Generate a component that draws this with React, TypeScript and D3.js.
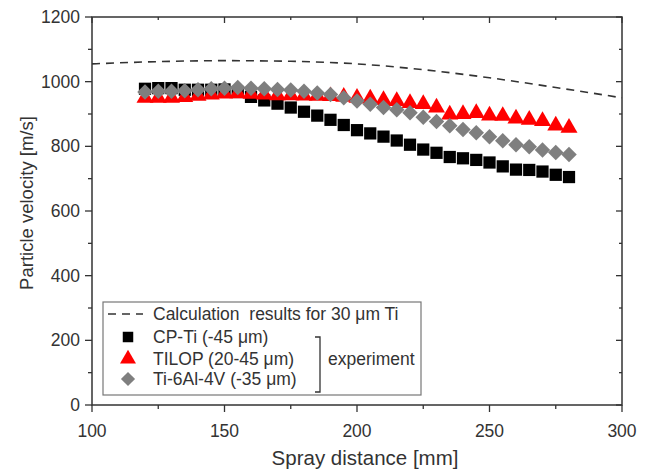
import React, { useEffect, useRef } from 'react';
import * as d3 from 'd3';

// spray distance [mm] for the measured points
const distance = [120, 125, 130, 135, 140, 145, 150, 155, 160, 165, 170, 175, 180, 185, 190, 195, 200,
    205, 210, 215, 220, 225, 230, 235, 240, 245, 250, 255, 260, 265, 270, 275, 280];

const cpTi = [978, 980, 980, 975, 975, 975, 976, 968, 953, 942, 932, 920, 907, 895, 882, 866, 850,
    840, 830, 818, 805, 790, 780, 767, 763, 758, 750, 738, 728, 727, 722, 712, 705];

const tilop = [950, 950, 950, 952, 956, 960, 963, 964, 962, 960, 958, 958, 957, 956, 955, 953, 950,
    948, 943, 940, 934, 931, 920, 898, 900, 903, 895, 894, 886, 882, 878, 864, 857];

const ti64 = [968, 970, 970, 972, 975, 978, 980, 982, 980, 978, 976, 974, 970, 965, 960, 950, 940,
    930, 920, 913, 904, 890, 877, 864, 852, 842, 830, 817, 805, 799, 789, 781, 775];

// calculation curve
const calcX = [100, 125, 150, 175, 200, 225, 250, 275, 300];
const calcV = [1055, 1062, 1065, 1063, 1055, 1037, 1012, 982, 950];

const xTicks = [100, 150, 200, 250, 300];
const yTicks = [0, 200, 400, 600, 800, 1000, 1200];

const legendLabels = ['Calculation  results for 30 \u03bcm Ti', 'CP-Ti (-45 \u03bcm)', 'TILOP (20-45 \u03bcm)', 'Ti-6Al-4V (-35 \u03bcm)'];

const margin = { top: 17, right: 25, bottom: 65, left: 92 };
const W = 647, H = 470;
const width = W - margin.left - margin.right;
const height = H - margin.top - margin.bottom;
const font = '"Liberation Sans", Arial, sans-serif';

export default function App() {
    const ref = useRef(null);

    useEffect(() => {
        const root = d3.select(ref.current);
        root.selectAll('*').remove();

        const svg = root.append('g').attr('transform', `translate(${margin.left},${margin.top})`);

        const x = d3.scaleLinear().domain([100, 300]).range([0, width]);
        const y = d3.scaleLinear().domain([0, 1200]).range([height, 0]);

        const axisColor = '#333';
        const minorX = d3.range(125, 300, 50);
        const minorY = d3.range(100, 1200, 200);

        // frame
        svg.append('rect').attr('width', width).attr('height', height)
            .attr('fill', 'none').attr('stroke', axisColor).attr('stroke-width', 1.5);

        const ticks = (data, x1, x2, y1, y2) => {
            svg.append('g').selectAll('line').data(data).enter().append('line')
                .attr('x1', x1).attr('x2', x2).attr('y1', y1).attr('y2', y2)
                .attr('stroke', axisColor).attr('stroke-width', 1.3);
        };
        // bottom (outward), top (inward)
        ticks(xTicks, d => x(d), d => x(d), height, height + 7);
        ticks(minorX, d => x(d), d => x(d), height, height + 4);
        ticks(xTicks, d => x(d), d => x(d), 0, 6);
        ticks(minorX, d => x(d), d => x(d), 0, 3);
        // left (outward), right (inward)
        ticks(yTicks, -7, 0, d => y(d), d => y(d));
        ticks(minorY, -4, 0, d => y(d), d => y(d));
        ticks(yTicks, width - 6, width, d => y(d), d => y(d));
        ticks(minorY, width - 3, width, d => y(d), d => y(d));

        // tick labels
        svg.append('g').selectAll('text').data(xTicks).enter().append('text')
            .attr('x', d => x(d)).attr('y', height + 32)
            .attr('text-anchor', 'middle')
            .style('font-family', font).style('font-size', '17.5px').attr('fill', '#333')
            .text(d => d);
        svg.append('g').selectAll('text').data(yTicks).enter().append('text')
            .attr('x', -12).attr('y', d => y(d) + 6)
            .attr('text-anchor', 'end')
            .style('font-family', font).style('font-size', '17.5px').attr('fill', '#333')
            .text(d => d);

        // axis titles
        svg.append('text')
            .attr('x', width / 2 + 8).attr('y', height + 60)
            .attr('text-anchor', 'middle')
            .style('font-family', font).style('font-size', '20.5px').attr('fill', '#333')
            .text('Spray distance [mm]');
        svg.append('text')
            .attr('transform', `translate(${-59},${height / 2 - 8}) rotate(-90)`)
            .attr('text-anchor', 'middle')
            .style('font-family', font).style('font-size', '18.5px').attr('fill', '#333')
            .text('Particle velocity [m/s]');

        // calculation curve
        const line = d3.line<number>().x((d, i) => x(calcX[i])).y(d => y(d)).curve(d3.curveMonotoneX);
        svg.append('path').datum(calcV)
            .attr('d', line)
            .attr('fill', 'none').attr('stroke', '#333').attr('stroke-width', 1.6)
            .attr('stroke-dasharray', '8,6');

        // markers
        const square = d3.symbol().type(d3.symbolSquare).size(150);
        const triangle = d3.symbol().type(d3.symbolTriangle).size(125);
        const diamond = d3.symbol().type(d3.symbolSquare).size(120);

        svg.append('g').selectAll('path').data(cpTi).enter().append('path')
            .attr('d', square)
            .attr('transform', (d, i) => `translate(${x(distance[i])},${y(d)})`)
            .attr('fill', '#000');
        svg.append('g').selectAll('path').data(tilop).enter().append('path')
            .attr('d', triangle)
            .attr('transform', (d, i) => `translate(${x(distance[i])},${y(d)})`)
            .attr('fill', '#f00');
        svg.append('g').selectAll('path').data(ti64).enter().append('path')
            .attr('d', diamond)
            .attr('transform', (d, i) => `translate(${x(distance[i])},${y(d)}) rotate(45)`)
            .attr('fill', '#7f7f7f');

        // legend
        const lg = svg.append('g').attr('transform', 'translate(11,285)');
        lg.append('rect').attr('width', 318).attr('height', 93)
            .attr('fill', '#fff').attr('stroke', '#777').attr('stroke-width', 1.2);

        const rowY = [12, 35, 57, 77];
        lg.append('line').attr('x1', 5).attr('x2', 40).attr('y1', rowY[0]).attr('y2', rowY[0])
            .attr('stroke', '#333').attr('stroke-width', 1.6).attr('stroke-dasharray', '8,6');
        lg.append('path').attr('d', d3.symbol().type(d3.symbolSquare).size(110)())
            .attr('transform', `translate(25,${rowY[1]})`).attr('fill', '#000');
        lg.append('path').attr('d', d3.symbol().type(d3.symbolTriangle).size(110)())
            .attr('transform', `translate(25,${rowY[2]})`).attr('fill', '#f00');
        lg.append('path').attr('d', d3.symbol().type(d3.symbolSquare).size(100)())
            .attr('transform', `translate(25,${rowY[3]}) rotate(45)`).attr('fill', '#7f7f7f');

        lg.selectAll('text.lbl').data(legendLabels).enter().append('text')
            .attr('class', 'lbl')
            .attr('x', 50).attr('y', (d, i) => rowY[i] + 6)
            .style('font-family', font).style('font-size', '17.5px').style('white-space', 'pre')
            .attr('fill', '#333')
            .text(d => d);

        // bracket for the experiment group
        lg.append('path')
            .attr('d', 'M212,35 L217,35 L217,90 L212,90')
            .attr('fill', 'none').attr('stroke', '#333').attr('stroke-width', 1.3);
        lg.append('text')
            .attr('x', 225).attr('y', rowY[2] + 6)
            .style('font-family', font).style('font-size', '17.5px').attr('fill', '#333')
            .text('experiment');
    }, []);

    return (
        <svg ref={ref} width={W} height={H} style={{ display: 'block', position: 'absolute', left: 0, top: 0 }} />
    );
}
